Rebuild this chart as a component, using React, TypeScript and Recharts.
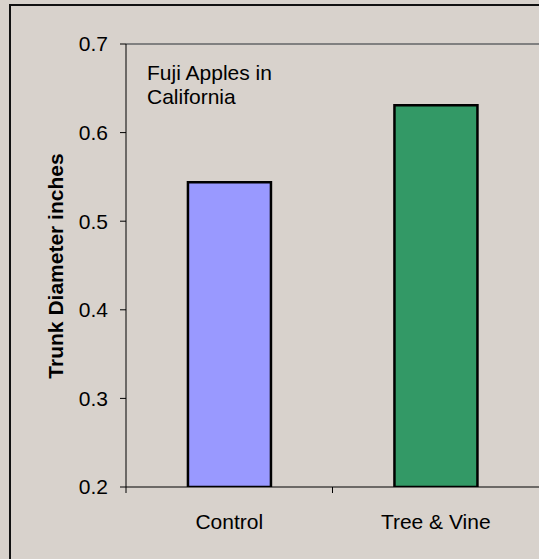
import { Bar, BarChart, Cell, ReferenceLine, XAxis, YAxis } from "recharts";

const categories = ["Control", "Tree & Vine"];
const diameters = [0.544, 0.631];
const barColors = ["#9999ff", "#339966"];
const yTicks = [0.2, 0.3, 0.4, 0.5, 0.6, 0.7];

const FONT = "'Liberation Sans', Arial, sans-serif";
const X_TICK_MARGIN = 27;

const data = categories.map((name, i) => ({ name, value: diameters[i] }));

function YLabel() {
  return (
    <text
      transform="translate(63,266) rotate(-90)"
      textAnchor="middle"
      fontFamily={FONT}
      fontSize={21}
      fontWeight="bold"
      fill="#000"
    >
      Trunk Diameter inches
    </text>
  );
}

// category label plus the excel-style tick mark at the left edge of the band
function CategoryTick(props: any) {
  const { x, y, payload } = props;
  const half = payload?.offset ?? 103.5;
  const axisY = y - X_TICK_MARGIN;
  return (
    <g>
      <line x1={x - half} x2={x - half} y1={axisY} y2={axisY + 6} stroke="#000" strokeWidth={1} />
      <text x={x} y={y} dy="0.71em" textAnchor="middle" fontFamily={FONT} fontSize={21} fill="#000">
        {payload.value}
      </text>
    </g>
  );
}

export default function App() {
  return (
    <div style={{ position: "relative", width: 539, height: 559, background: "#d8d2cc", overflow: "hidden" }}>
      <style>{`body{margin:0}`}</style>
      <div
        style={{
          position: "absolute",
          left: 9,
          top: 4,
          width: 600,
          height: 600,
          borderLeft: "2px solid #111",
          borderTop: "2px solid #111",
          boxSizing: "border-box",
        }}
      />
      <div style={{ position: "absolute", left: 0, top: 0 }}>
        <BarChart
          width={539}
          height={559}
          data={data}
          margin={{ top: 44, right: 0, bottom: 0, left: 0 }}
          barCategoryGap="30%"
        >
          <XAxis
            dataKey="name"
            height={72}
            axisLine={{ stroke: "#000", strokeWidth: 1 }}
            tickLine={false}
            tickSize={0}
            tickMargin={X_TICK_MARGIN}
            tick={<CategoryTick />}
          />
          <YAxis
            width={126}
            domain={[0.2, 0.7]}
            ticks={yTicks}
            allowDataOverflow
            tickFormatter={(v: number) => v.toFixed(1)}
            axisLine={{ stroke: "#000" }}
            tickLine={{ stroke: "#000" }}
            tickSize={6}
            tickMargin={12}
            tick={{ fill: "#000", fontSize: 21, fontFamily: FONT }}
            label={<YLabel />}
          />
          <ReferenceLine y={0.7} stroke="#808080" strokeWidth={2} />
          <Bar dataKey="value" stroke="#000" strokeWidth={2.5} isAnimationActive={false}>
            {data.map((d, i) => (
              <Cell key={d.name} fill={barColors[i]} />
            ))}
          </Bar>
        </BarChart>
      </div>
      <div
        style={{
          position: "absolute",
          left: 147,
          top: 61,
          fontFamily: FONT,
          fontSize: 21,
          lineHeight: "24px",
          color: "#000",
        }}
      >
        Fuji Apples in
        <br />
        California
      </div>
    </div>
  );
}
